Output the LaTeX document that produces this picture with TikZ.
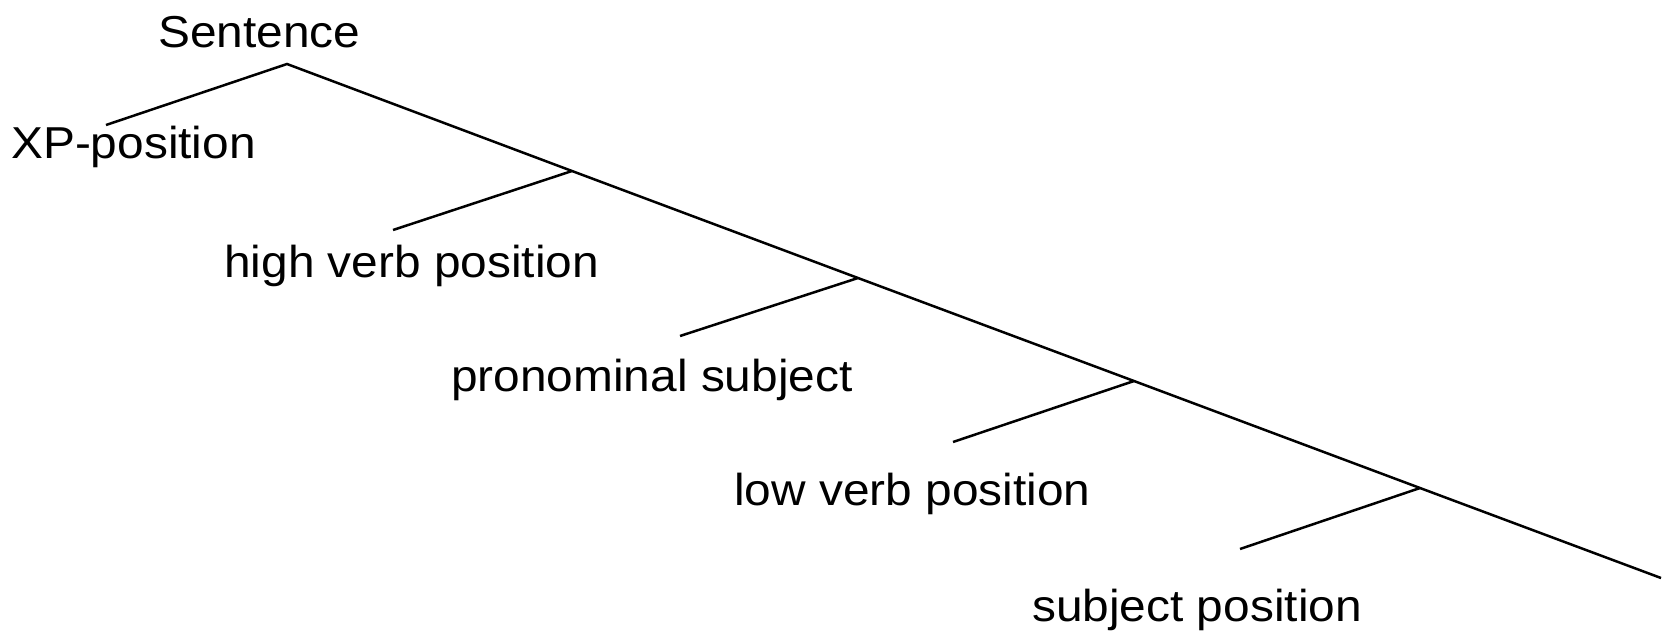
\documentclass[tikz,border=0pt]{standalone}
\usepackage{fontspec}
\setmainfont{Liberation Sans}[FakeStretch=1.07]
\begin{document}
\begin{tikzpicture}[x=1pt,y=-1pt,
  lbl/.style={anchor=base west,inner sep=0pt,font=\fontsize{44.7}{50}\selectfont},
  edge/.style={line width=2.5pt,line cap=butt,line join=miter}]
\useasboundingbox (0,0) rectangle (1669,630);
% tree points
\coordinate (top) at (287,64);
\coordinate (xp) at (106,125);
\coordinate (b1) at (572,171);
\coordinate (l1) at (393,230);
\coordinate (b2) at (858,278);
\coordinate (l2) at (680,336);
\coordinate (b3) at (1134,381);
\coordinate (l3) at (953,442);
\coordinate (b4) at (1420,488);
\coordinate (l4) at (1240,549);
\coordinate (end) at (1661,578);
% labels
\node[lbl] (sentence) at (158,47) {Sentence};
\node[lbl] (xppos) at (11,158) {XP-position};
\node[lbl] (high) at (224,277) {high verb position};
\node[lbl] (pron) at (451,391) {pronominal subject};
\node[lbl] (low) at (734,505) {low verb position};
\node[lbl] (subj) at (1032,621) {subject position};
% lines
\draw[edge] (xp) -- (top) -- (b1) -- (b2) -- (b3) -- (b4) -- (end);
\draw[edge] (b1) -- (l1);
\draw[edge] (b2) -- (l2);
\draw[edge] (b3) -- (l3);
\draw[edge] (b4) -- (l4);
\end{tikzpicture}
\end{document}
